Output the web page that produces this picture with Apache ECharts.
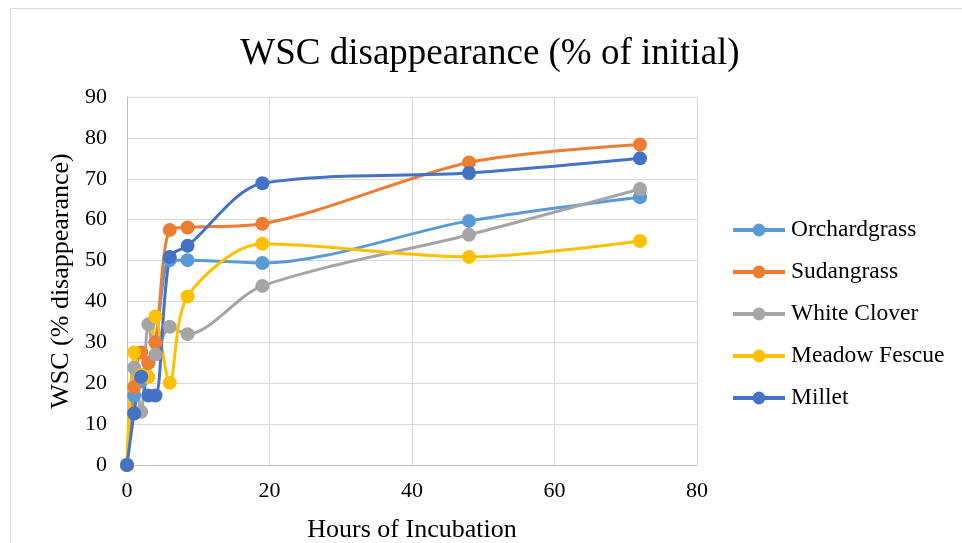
<!DOCTYPE html>
<html lang='en'>
  <head>
    <meta charset='utf-8'>
    <title>WSC disappearance</title>
    <style>
      body { margin: 0; background: #fff; }
    </style>
  </head>
  <body>
    <div id="main" style="width:962px;height:543px;"></div>
    <script src="https://cdn.jsdelivr.net/npm/echarts@6/dist/echarts.min.js"></script>
    <script>
      // hours of incubation
      var hours = [0, 1, 2, 3, 4, 6, 8.5, 19, 48, 72];
      var names = ['Orchardgrass', 'Sudangrass', 'White Clover', 'Meadow Fescue', 'Millet'];
      var orchardgrass = [0, 17, 20.5, 25, 30, 50.1, 50.1, 49.4, 59.7, 65.5];
      var sudangrass = [0, 19, 27.5, 25, 30, 57.5, 58.1, 59, 74, 78.4];
      var whiteClover = [0, 23.8, 13, 34.4, 27, 33.8, 32, 43.8, 56.3, 67.5];
      var meadowFescue = [0, 27.5, 22, 21.5, 36.3, 20.1, 41.2, 54.1, 50.9, 54.8];
      var millet = [0, 12.6, 21.6, 17, 17, 50.9, 53.6, 68.9, 71.4, 75];
      var colors = ['#5B9BD5', '#ED7D31', '#A5A5A5', '#FFC000', '#4472C4'];

      function pairs(vals) {
        return hours.map(function (h, i) { return [h, vals[i]]; });
      }

      var allVals = [orchardgrass, sudangrass, whiteClover, meadowFescue, millet];
      var series = names.map(function (n, i) {
        return {
          name: n,
          type: 'line',
          smooth: 0.3,
          symbol: 'circle',
          symbolSize: 14,
          lineStyle: { width: 3, color: colors[i] },
          itemStyle: { color: colors[i] },
          data: pairs(allVals[i])
        };
      });

      var font = 'Liberation Serif, Times New Roman, serif';
      var myChart = echarts.init(document.getElementById('main'));
      var option = {
        backgroundColor: '#fff',
        animation: false,
        color: colors,
        textStyle: { fontFamily: font },
        title: {
          text: 'WSC disappearance (% of initial)',
          left: 485,
          textAlign: 'center',
          top: 31,
          textStyle: { fontFamily: font, fontSize: 37, fontWeight: 'normal', color: '#000' }
        },
        graphic: [{
          type: 'rect',
          shape: { x: 10.5, y: 8.5, width: 960, height: 540 },
          style: { fill: 'none', stroke: '#d9d9d9', lineWidth: 1 }
        }],
        legend: {
          orient: 'vertical',
          left: 726,
          top: 213,
          itemGap: 18,
          itemWidth: 52,
          itemHeight: 16,
          lineStyle: { width: 4 },
          data: names,
          textStyle: { fontFamily: font, fontSize: 23.5, color: '#000', padding: [0, 0, 0, 1] }
        },
        grid: { left: 127, top: 97, width: 570, height: 368, containLabel: false, outerBoundsMode: 'none' },
        xAxis: {
          type: 'value',
          min: 0, max: 80, interval: 20,
          name: 'Hours of Incubation',
          nameLocation: 'middle',
          nameGap: 52,
          nameTextStyle: { fontFamily: font, fontSize: 26, color: '#000' },
          axisLine: { show: true, lineStyle: { color: '#bfbfbf' } },
          axisTick: { show: false },
          axisLabel: { fontFamily: font, fontSize: 22, color: '#000', margin: 15 },
          splitLine: { lineStyle: { color: '#d9d9d9', width: 1 } }
        },
        yAxis: {
          type: 'value',
          min: 0, max: 90, interval: 10,
          name: 'WSC (% disappearance)',
          nameLocation: 'middle',
          nameGap: 50,
          nameTextStyle: { fontFamily: font, fontSize: 26, color: '#000' },
          axisLine: { show: true, lineStyle: { color: '#bfbfbf' } },
          axisTick: { show: false },
          axisLabel: { fontFamily: font, fontSize: 22, color: '#000', margin: 20 },
          splitLine: { lineStyle: { color: '#d9d9d9', width: 1 } }
        },
        series: series
      };
      myChart.setOption(option);
    </script>
  </body>
</html>
